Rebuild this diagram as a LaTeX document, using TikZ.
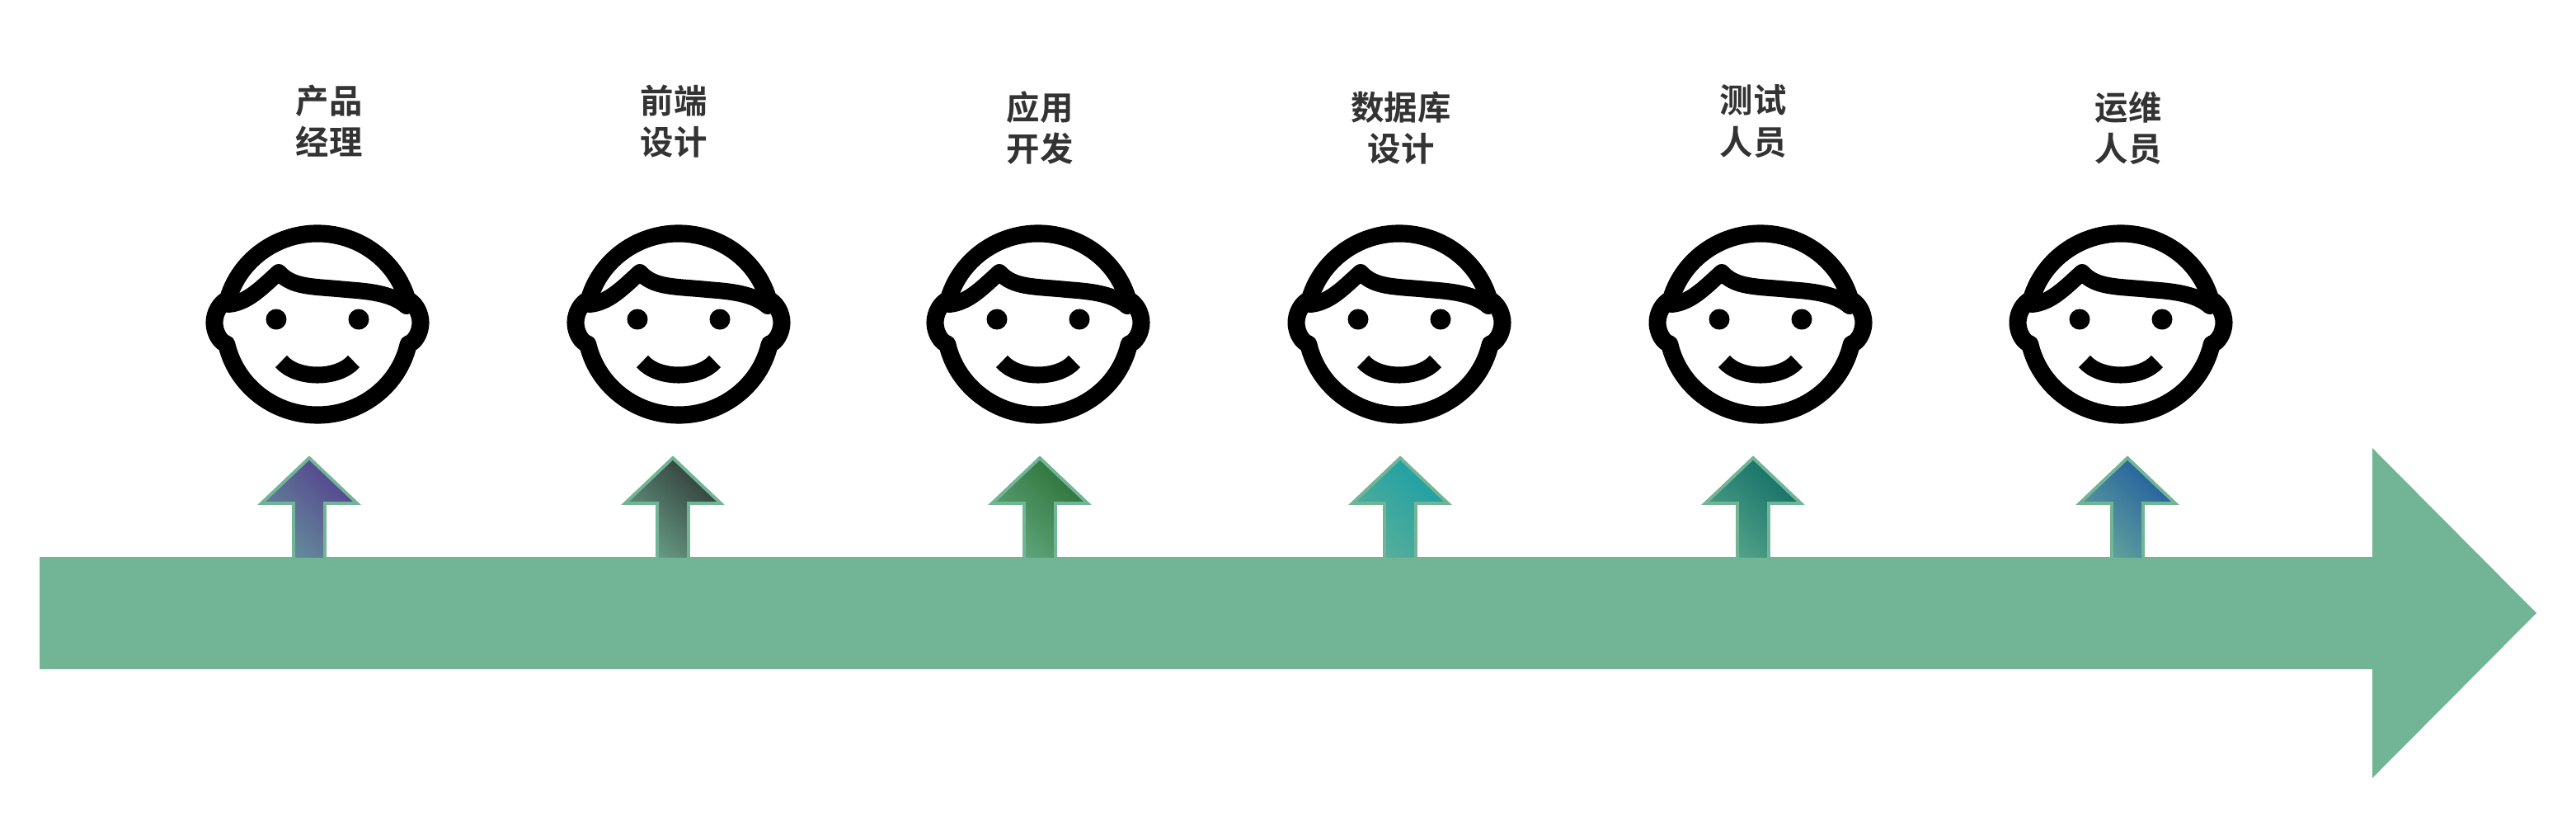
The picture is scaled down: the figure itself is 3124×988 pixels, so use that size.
\documentclass[tikz,border=0pt]{standalone}
\usepackage{fontspec}
\setmainfont{Noto Sans CJK SC}[BoldFont={* Bold}]
\definecolor{flow}{HTML}{72B496}
\definecolor{ink}{HTML}{333333}
\definecolor{aA}{HTML}{54408F}\definecolor{bA}{HTML}{65909A}
\definecolor{aB}{HTML}{2F3B38}\definecolor{bB}{HTML}{6A9F88}
\definecolor{aC}{HTML}{2C7136}\definecolor{bC}{HTML}{62A67E}
\definecolor{aD}{HTML}{1A9FA6}\definecolor{bD}{HTML}{5AAF98}
\definecolor{aE}{HTML}{126E66}\definecolor{bE}{HTML}{55A58A}
\definecolor{aF}{HTML}{225C9F}\definecolor{bF}{HTML}{62A49B}
\tikzset{
  label text/.style={font=\fontsize{23}{28.5}\selectfont\bfseries, text=ink, align=center, inner sep=0pt},
  face line/.style={draw=black, line width=11pt, line join=round, line cap=round},
  pics/face/.style={code={
    \begin{scope}[y=0.02cm]
      \draw[face line, line width=12pt, fill=white] (-108.7,30) arc[start angle=164.2, end angle=15.8, x radius=113, y radius=110]
        .. controls (118,26) and (125,14) .. (125,2)
        .. controls (125,-10) and (118,-22) .. (110.3,-24)
        arc[start angle=-12.6, end angle=-167.4, x radius=113, y radius=110]
        .. controls (-118,-22) and (-125,-10) .. (-125,2)
        .. controls (-125,14) and (-118,26) .. (-108.7,30) -- cycle;
      \draw[face line, line width=11.4pt] (-108,24) .. controls (-85,26) and (-68,44) .. (-47,63)
        .. controls (-30,44) and (-5,46) .. (35,42)
        .. controls (60,40) and (90,38) .. (108,22);
      \fill[black] (-50,6) circle[radius=12.5];
      \fill[black] (50,6) circle[radius=12.5];
      \draw[face line, line width=11.4pt, line cap=butt] (-44,-45) .. controls (-25,-67) and (25,-67) .. (44,-45);
    \end{scope}
  }},
  up arrow/.style 2 args={draw=flow, line width=2.2pt, line join=miter, shading=axis,
    top color=#1, bottom color=#2, shading angle=-45}
}
\newcommand{\uparrowat}[3]{%
  \draw[up arrow={#2}{#3}] (#1,555) -- (#1+58,610) -- (#1+19,610) -- (#1+19,678) -- (#1-19,678) -- (#1-19,610) -- (#1-58,610) -- cycle;
}
\begin{document}
\begin{tikzpicture}[x=0.02cm,y=-0.02cm]
  \useasboundingbox (0,0) rectangle (3124,988);
  \fill[white] (0,0) rectangle (3124,988);
  \fill[flow] (48,675) -- (2877,675) -- (2877,543) -- (3076,743) -- (2877,943) -- (2877,811) -- (48,811) -- cycle;
  \uparrowat{375}{aA}{bA}
  \uparrowat{816}{aB}{bB}
  \uparrowat{1261}{aC}{bC}
  \uparrowat{1698}{aD}{bD}
  \uparrowat{2126}{aE}{bE}
  \uparrowat{2580}{aF}{bF}
  \node[label text] (t1) at (399,147) {产品\\经理};
  \node[label text] (t2) at (817,147) {前端\\设计};
  \node[label text] (t3) at (1261,155) {应用\\开发};
  \node[label text] (t4) at (1699,155) {数据库\\设计};
  \node[label text] (t5) at (2126,147) {测试\\人员};
  \node[label text] (t6) at (2581,155) {运维\\人员};
  \pic at (385,393) {face};
  \pic at (823,393) {face};
  \pic at (1259,393) {face};
  \pic at (1697,393) {face};
  \pic at (2135,393) {face};
  \pic at (2572,393) {face};
\end{tikzpicture}
\end{document}
